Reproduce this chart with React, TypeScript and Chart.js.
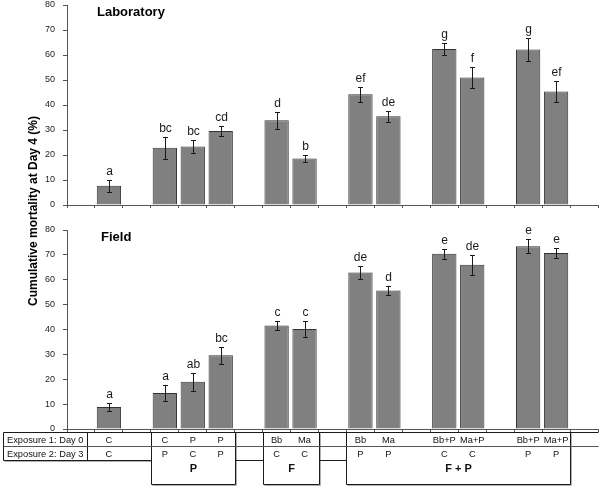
import React, { useEffect, useRef } from 'react';
import { Chart, registerables } from 'chart.js';
Chart.register(...registerables);

// ---------- DATA ----------
const categories = ['', 'C/C', '', 'C/P', 'P/C', 'P/P', '', 'Bb/C', 'Ma/C', '', 'Bb/P', 'Ma/P', '', 'Bb+P/C', 'Ma+P/C', '', 'Bb+P/P', 'Ma+P/P', ''];
const exposure1 = ['', 'C', '', 'C', 'P', 'P', '', 'Bb', 'Ma', '', 'Bb', 'Ma', '', 'Bb+P', 'Ma+P', '', 'Bb+P', 'Ma+P', ''];
const exposure2 = ['', 'C', '', 'P', 'C', 'P', '', 'C', 'C', '', 'P', 'P', '', 'C', 'C', '', 'P', 'P', ''];
const rowLabels = ['Exposure 1: Day 0', 'Exposure 2: Day 3'];

const labMean = [null, 7.7, null, 22.9, 23.4, 29.6, null, 33.9, 18.6, null, 44.3, 35.5, null, 62.4, 51.0, null, 62.2, 45.4, null];
const labErr = [0, 2.5, 0, 4.3, 2.7, 2.1, 0, 3.3, 1.4, 0, 3.0, 2.3, 0, 2.5, 4.2, 0, 4.5, 4.1, 0];
const labLetters = ['', 'a', '', 'bc', 'bc', 'cd', '', 'd', 'b', '', 'ef', 'de', '', 'g', 'f', '', 'g', 'ef', ''];

const fieldMean = [null, 8.8, null, 14.5, 19.0, 29.6, null, 41.6, 40.2, null, 62.9, 55.7, null, 70.5, 66.0, null, 73.5, 70.8, null];
const fieldErr = [0, 1.6, 0, 3.1, 3.7, 3.5, 0, 1.8, 3.2, 0, 2.5, 1.8, 0, 2.0, 3.9, 0, 2.9, 2.1, 0];
const fieldLetters = ['', 'a', '', 'a', 'ab', 'bc', '', 'c', 'c', '', 'de', 'd', '', 'e', 'de', '', 'e', 'e', ''];

const groupNames = ['P', 'F', 'F + P'];
const groupFirst = [3, 7, 10];
const groupLast = [5, 8, 17];

const yTicks = [0, 10, 20, 30, 40, 50, 60, 70, 80];
const yTitle = 'Cumulative mortality at Day 4 (%)';

// ---------- STYLE ----------
const FONT = 'Arial, "Liberation Sans", Helvetica, sans-serif';
const W = 603;
const TOP_H = 215;
const BOT_H = 489 - TOP_H;

const annotPlugin = {
  id: 'annot',
  afterDatasetsDraw(chart: any, _args: any, opts: any) {
    const { ctx, chartArea } = chart;
    const x = chart.scales.x;
    const y = chart.scales.y;
    const means: (number | null)[] = opts.means;
    const errs: number[] = opts.errs;
    const letters: string[] = opts.letters;
    ctx.save();
    ctx.strokeStyle = '#1a1a1a';
    ctx.lineWidth = 1;
    ctx.fillStyle = '#1a1a1a';
    ctx.font = `12px ${FONT}`;
    ctx.textAlign = 'center';
    ctx.textBaseline = 'alphabetic';
    means.forEach((m, i) => {
      if (m == null) return;
      const cx = Math.round(x.getPixelForValue(i)) + 0.5;
      const yt = Math.round(y.getPixelForValue(m + errs[i])) + 0.5;
      const yb = Math.round(y.getPixelForValue(m - errs[i])) + 0.5;
      ctx.beginPath();
      ctx.moveTo(cx, yt);
      ctx.lineTo(cx, yb);
      ctx.moveTo(cx - 2.5, yt);
      ctx.lineTo(cx + 2.5, yt);
      ctx.moveTo(cx - 2.5, yb);
      ctx.lineTo(cx + 2.5, yb);
      ctx.stroke();
      ctx.fillText(letters[i], cx, yt - 5.5);
    });
    ctx.font = `bold 13px ${FONT}`;
    ctx.textAlign = 'left';
    ctx.textBaseline = 'middle';
    ctx.fillStyle = '#000';
    ctx.fillText(opts.title, chartArea.left + opts.titleDx, chartArea.top + 7);
    ctx.restore();
  },
};

const tablePlugin = {
  id: 'table',
  afterDraw(chart: any, _args: any, opts: any) {
    if (!opts || !opts.enabled) return;
    const { ctx, chartArea } = chart;
    const x = chart.scales.x;
    const half = (x.getPixelForValue(1) - x.getPixelForValue(0)) / 2;
    const b = chartArea.bottom;
    const top = Math.round(b + 3) + 0.5;
    const mid = Math.round(b + 17) + 0.5;
    const r2 = Math.round(b + 31) + 0.5;
    const boxB = Math.round(b + 55) + 0.5;
    const left = 3.5;
    const labelDiv = 87.5;
    const right = Math.round(chartArea.right) + 0.5;
    const boxes = groupFirst.map((f, gi) => ({
      l: Math.round(x.getPixelForValue(f) - half) + 0.5,
      r: Math.min(right, Math.round(x.getPixelForValue(groupLast[gi]) + half) + 0.5),
      name: groupNames[gi],
    }));
    ctx.save();
    ctx.lineWidth = 1;
    // shadows
    ctx.strokeStyle = '#b0b0b0';
    ctx.beginPath();
    boxes.forEach((bx) => {
      ctx.moveTo(bx.r + 1, top + 1);
      ctx.lineTo(bx.r + 1, boxB + 1);
      ctx.lineTo(bx.l + 1, boxB + 1);
    });
    ctx.moveTo(left + 1, r2 + 1);
    ctx.lineTo(boxes[0].l, r2 + 1);
    ctx.stroke();
    // main lines
    ctx.strokeStyle = '#1a1a1a';
    ctx.beginPath();
    ctx.moveTo(left, top);
    ctx.lineTo(right, top);
    ctx.moveTo(left, top);
    ctx.lineTo(left, r2);
    ctx.moveTo(labelDiv, top);
    ctx.lineTo(labelDiv, r2);
    ctx.moveTo(left, r2);
    ctx.lineTo(boxes[0].l, r2);
    for (let i = 0; i < boxes.length - 1; i++) {
      ctx.moveTo(boxes[i].r, r2);
      ctx.lineTo(boxes[i + 1].l, r2);
    }
    boxes.forEach((bx) => {
      ctx.moveTo(bx.l, top);
      ctx.lineTo(bx.l, boxB);
      ctx.lineTo(bx.r, boxB);
      ctx.lineTo(bx.r, top);
    });
    ctx.stroke();
    // middle row line (lighter)
    ctx.strokeStyle = '#555';
    ctx.beginPath();
    ctx.moveTo(left, mid);
    ctx.lineTo(right, mid);
    ctx.stroke();
    // texts
    ctx.fillStyle = '#111';
    ctx.font = `9.3px ${FONT}`;
    ctx.textBaseline = 'middle';
    ctx.textAlign = 'left';
    ctx.fillText(rowLabels[0], 7, b + 11);
    ctx.fillText(rowLabels[1], 7, b + 25);
    ctx.textAlign = 'center';
    exposure1.forEach((t, i) => {
      if (!t) return;
      const cx = x.getPixelForValue(i);
      ctx.fillText(t, cx, b + 11);
      ctx.fillText(exposure2[i], cx, b + 25);
    });
    ctx.font = `bold 11px ${FONT}`;
    boxes.forEach((bx) => {
      ctx.fillText(bx.name, (bx.l + bx.r) / 2, b + 39.5);
    });
    ctx.restore();
  },
};

function buildConfig(means: (number | null)[], errs: number[], letters: string[], title: string, titleDx: number, topPad: number, xH: number, table: boolean): any {
  return {
    type: 'bar',
    data: {
      labels: categories,
      datasets: [
        {
          data: means,
          backgroundColor: '#808080',
          borderColor: '#333333',
          borderWidth: { top: 1, left: 1, right: 1, bottom: 0 },
          barPercentage: 0.87,
          categoryPercentage: 1,
        },
      ],
    },
    options: {
      responsive: false,
      animation: false,
      devicePixelRatio: 1,
      layout: { padding: { left: 0, right: 5, top: topPad, bottom: 0 } },
      plugins: {
        legend: { display: false },
        tooltip: { enabled: false },
        annot: { means, errs, letters, title, titleDx },
        table: { enabled: table },
      },
      scales: {
        x: {
          type: 'category',
          offset: true,
          grid: { display: true, offset: true, drawOnChartArea: false, drawTicks: true, tickLength: 3, color: '#555' },
          border: { display: true, color: '#555' },
          ticks: { display: false },
          afterFit: (s: any) => {
            s.height = xH;
            s.paddingLeft = 0;
            s.paddingRight = 0;
          },
        },
        y: {
          min: 0,
          max: 80,
          afterBuildTicks: (s: any) => {
            s.ticks = yTicks.map((v) => ({ value: v }));
          },
          ticks: { font: { family: FONT, size: 9 }, color: '#222', padding: 8 },
          grid: { display: true, drawOnChartArea: false, drawTicks: true, tickLength: 4, color: '#555' },
          border: { display: true, color: '#555' },
          afterFit: (s: any) => {
            s.width = 67;
            s.paddingTop = 0;
            s.paddingBottom = 0;
          },
        },
      },
    },
    plugins: [annotPlugin, tablePlugin],
  };
}

export default function App() {
  const topRef = useRef<HTMLCanvasElement>(null);
  const botRef = useRef<HTMLCanvasElement>(null);

  useEffect(() => {
    const c1 = new Chart(topRef.current as HTMLCanvasElement, buildConfig(labMean, labErr, labLetters, 'Laboratory', 30, 5, 10, false));
    const c2 = new Chart(botRef.current as HTMLCanvasElement, buildConfig(fieldMean, fieldErr, fieldLetters, 'Field', 34, 15, 60, true));
    return () => {
      c1.destroy();
      c2.destroy();
    };
  }, []);

  return (
    <div style={{ position: 'fixed', left: 0, top: 0, width: W, height: 489, background: '#fff', overflow: 'hidden' }}>
      <canvas ref={topRef} width={W} height={TOP_H} style={{ position: 'absolute', left: 0, top: 0, width: W, height: TOP_H, display: 'block' }} />
      <canvas ref={botRef} width={W} height={BOT_H} style={{ position: 'absolute', left: 0, top: TOP_H, width: W, height: BOT_H, display: 'block' }} />
      <div
        style={{
          position: 'absolute',
          left: 33 - 150,
          top: 211 - 8,
          width: 300,
          height: 16,
          lineHeight: '16px',
          textAlign: 'center',
          transform: 'rotate(-90deg)',
          fontFamily: FONT,
          fontWeight: 'bold',
          fontSize: 12,
          color: '#000',
          whiteSpace: 'nowrap',
        }}
      >
        {yTitle}
      </div>
    </div>
  );
}
